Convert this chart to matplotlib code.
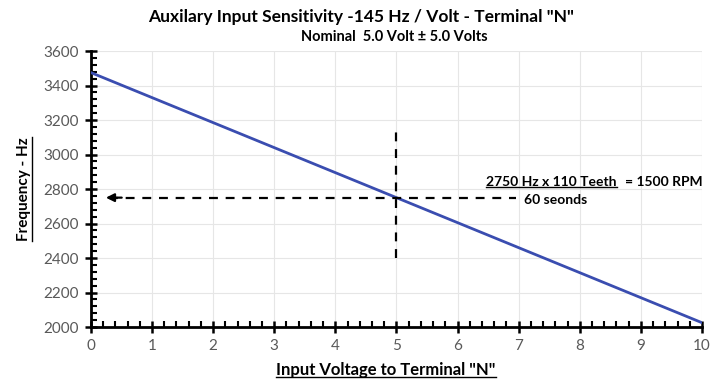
import matplotlib.pyplot as plt
import numpy as np
from matplotlib.ticker import MultipleLocator
from matplotlib.lines import Line2D

plt.rcParams['font.family'] = ['Lato', 'DejaVu Sans']

# data
volts = [0, 1, 2, 3, 4, 5, 6, 7, 8, 9, 10]
freq_hz = [3475, 3330, 3185, 3040, 2895, 2750, 2605, 2460, 2315, 2170, 2025]
x_ticks = [0, 1, 2, 3, 4, 5, 6, 7, 8, 9, 10]
y_ticks = [2000, 2200, 2400, 2600, 2800, 3000, 3200, 3400, 3600]
marker_v = 5
marker_hz = 2750
vline_span = [2400, 3170]
hline_span = [0.2, 6.95]

fig = plt.figure(figsize=(7.27, 3.85), dpi=100)
ax = fig.add_axes([0.125, 0.1506, 0.8406, 0.7169])

ax.plot(volts, freq_hz, color='#3A4DB0', lw=2, zorder=3)

# dashed guide lines
ax.plot([marker_v, marker_v], vline_span, color='black', lw=1.6, ls=(0, (4, 3.5)), zorder=4)
ax.plot([hline_span[0] + 0.1, hline_span[1]], [marker_hz, marker_hz], color='black', lw=1.6,
        ls=(0, (4, 3.5)), zorder=4)
ax.annotate('', xy=(hline_span[0], marker_hz), xytext=(hline_span[0] + 0.35, marker_hz),
            arrowprops=dict(arrowstyle='-|>', color='black', lw=1.6, mutation_scale=12))

ax.set_xlim(0, 10)
ax.set_ylim(2000, 3600)
ax.set_xticks(x_ticks)
ax.set_yticks(y_ticks)
ax.xaxis.set_minor_locator(MultipleLocator(0.2))
ax.yaxis.set_minor_locator(MultipleLocator(40))
ax.grid(True, which='major', color='#e6e6e6', lw=0.8, zorder=0)
for s in ['top', 'right']:
    ax.spines[s].set_visible(False)
for s in ['left', 'bottom']:
    ax.spines[s].set_linewidth(2)
ax.tick_params(which='major', direction='inout', length=9, width=1.8, labelsize=11,
               labelcolor='#595959', pad=4)
ax.tick_params(which='minor', direction='in', length=4, width=1.5)

fig.text(0.497, 0.956, 'Auxilary Input Sensitivity -145 Hz / Volt - Terminal "N"',
         ha='center', va='center', fontsize=12.5, fontweight='bold')
fig.text(0.543, 0.904, 'Nominal  5.0 Volt \u00b1 5.0 Volts', ha='center', va='center',
         fontsize=10.5, fontweight='bold')

xl = fig.text(0.531, 0.039, 'Input Voltage to Terminal "N"', ha='center', va='center',
              fontsize=12, fontweight='bold')
yl = fig.text(0.033, 0.51, 'Frequency - Hz', ha='center', va='center', rotation=90,
              fontsize=11, fontweight='bold')
t1 = ax.text(6.47, 2840, '2750 Hz x 110 Teeth', ha='left', va='center', fontsize=10,
             fontweight='bold')
ax.text(8.74, 2840, '= 1500 RPM', ha='left', va='center', fontsize=10, fontweight='bold')
ax.text(7.08, 2735, '60 seonds', ha='left', va='center', fontsize=10, fontweight='bold')

# underline texts
fig.canvas.draw()
r = fig.canvas.get_renderer()
inv = fig.transFigure.inverted()
for t in [xl, t1]:
    bb = t.get_window_extent(r)
    (x0, y0), (x1, y1) = inv.transform([(bb.x0, bb.y0), (bb.x1, bb.y1)])
    fig.add_artist(Line2D([x0, x1], [y0 + 0.002, y0 + 0.002], color='black', lw=1,
                          transform=fig.transFigure))
bb = yl.get_window_extent(r)
(x0, y0), (x1, y1) = inv.transform([(bb.x0, bb.y0), (bb.x1, bb.y1)])
fig.add_artist(Line2D([x1 + 0.001, x1 + 0.001], [y0, y1], color='black', lw=1,
                      transform=fig.transFigure))

fig.savefig('out.png', dpi=100)
